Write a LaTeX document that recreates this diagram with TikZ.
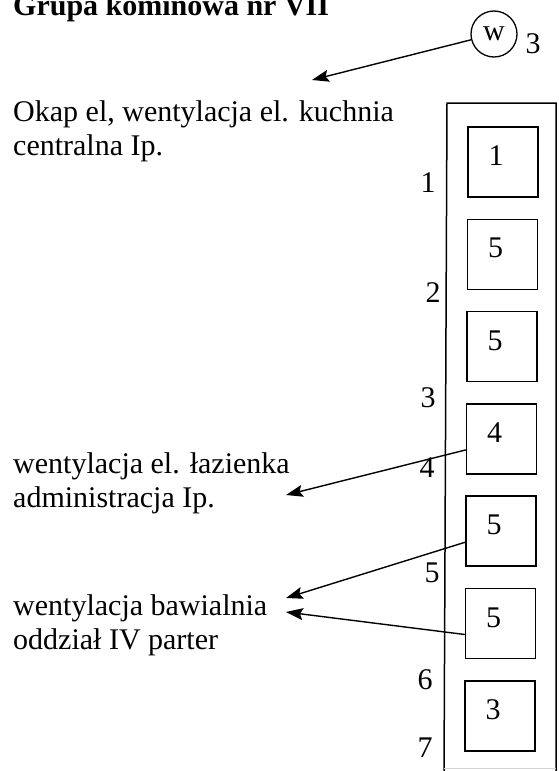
\documentclass[tikz,border=0pt]{standalone}
\usepackage{fontspec}
\setmainfont{Liberation Serif}
\usetikzlibrary{arrows.meta, positioning, calc}
\tikzset{shaft/.style={draw,line width=1.5pt,minimum size=70pt,inner sep=0pt},
    vent/.style={circle,draw,line width=1.3pt,minimum size=46pt,inner sep=0pt},
    flow/.style={draw,line width=1.4pt,-{Stealth[length=17pt,width=12pt,inset=3pt]}},
    txt/.style={font=\fontsize{30}{34}\selectfont,inner sep=0pt},
    desc/.style={txt,align=left,anchor=base west}}

\begin{document}
\begin{tikzpicture}[x=1pt,y=-1pt]
    \useasboundingbox (0,0) rectangle (558,771);

    % Title (cut at the top edge)
    \node[txt,font=\fontsize{30}{34}\selectfont\bfseries,anchor=base west] (title) at (13,15) {Grupa kominowa nr VII};

    % Chimney casing
    \draw[line width=1.5pt] (444,775) -- (447,103) -- (556,103) -- (556,775);
    \draw[gray!35, line width=1pt] (444,768) -- (556,768);

    % Flues with their numbers
    \foreach \n/\k in {1/1,2/5,3/5,4/4,5/5,6/5,7/3}{
        \node[shaft] (s\n) at ({503-0.5*(\n-1)},{162+92.3*(\n-1)}) {};
        \node[txt] (k\n) at ([shift={(-7,-6)}]s\n.center) {\k};
    }

    % Level marks on the left of the casing
    \foreach \n/\xx/\yy in {1/428/183, 2/433/293, 3/428/398, 4/427/468,
        5/432/573, 6/425/680, 7/425/748}
        \node[txt] (m\n) at (\xx,\yy) {\n};

    % Outlet on the roof
    \node[vent,txt] (w) at (494,34) {w};
    \node[txt] (w3) at (533,44) {3};

    % Descriptions (base = last line)
    \node[desc] (kuchnia) at (13,155) {Okap el, wentylacja el. kuchnia\\centralna Ip.};
    \node[desc] (lazienka) at (13,507) {wentylacja el. łazienka\\administracja Ip.};
    \node[desc] (bawialnia) at (13,649) {wentylacja bawialnia\\oddział IV parter};

    % Arrow ends
    \coordinate (kuchnia tip) at (312,80);
    \coordinate (lazienka tip) at (286,495);
    \coordinate (bawialnia tip a) at (286,598);
    \coordinate (bawialnia tip b) at (286,612);

    \draw[flow] (w) -- (kuchnia tip);
    \draw[flow] ([yshift=-11pt]s4.west) -- (lazienka tip);
    \draw[flow] ([yshift=-11pt]s5.west) -- (bawialnia tip a);
    \draw[flow] ([yshift=-11pt]s6.west) -- (bawialnia tip b);
\end{tikzpicture}
\end{document}
